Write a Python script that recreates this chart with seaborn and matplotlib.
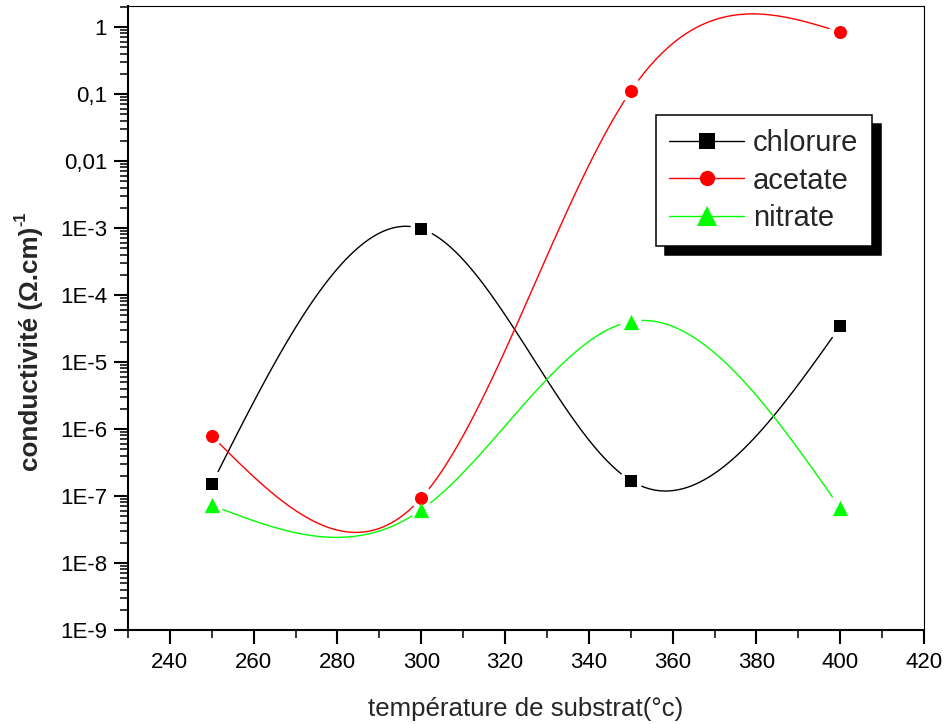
import numpy as np
import pandas as pd
import matplotlib
matplotlib.use("Agg")
import matplotlib.pyplot as plt
import seaborn as sns
from matplotlib.lines import Line2D
from matplotlib.ticker import FixedLocator, FixedFormatter, LogLocator, MultipleLocator, NullFormatter

# Conductivity of the films versus substrate temperature, one series per precursor
temperature = [250, 300, 350, 400]
chlorure = [1.5e-7, 9.7e-4, 1.7e-7, 3.4e-5]
acetate = [7.9e-7, 9.3e-8, 0.11, 0.84]
nitrate = [7.3e-8, 6.2e-8, 4.0e-5, 6.6e-8]

series_names = ["chlorure", "acetate", "nitrate"]
series_values = [chlorure, acetate, nitrate]
series_colors = ["#000000", "#FF0000", "#00FF00"]
series_markers = ["s", "o", "^"]
marker_sizes = [9.0, 9.4, 11.0]
legend_marker_sizes = [11.0, 11.0, 14.0]

x_ticks = [240, 260, 280, 300, 320, 340, 360, 380, 400, 420]
y_ticks = [1e-9, 1e-8, 1e-7, 1e-6, 1e-5, 1e-4, 1e-3, 1e-2, 1e-1, 1]
y_tick_labels = ["1E-9", "1E-8", "1E-7", "1E-6", "1E-5", "1E-4", "1E-3", "0,01", "0,1", "1"]


def natural_spline(x, y, n=400):
    """Natural cubic spline through (x, y), sampled on n points."""
    x = np.asarray(x, float)
    y = np.asarray(y, float)
    k = len(x)
    h = np.diff(x)
    A = np.zeros((k, k))
    b = np.zeros(k)
    A[0, 0] = A[-1, -1] = 1.0
    for i in range(1, k - 1):
        A[i, i - 1] = h[i - 1]
        A[i, i] = 2 * (h[i - 1] + h[i])
        A[i, i + 1] = h[i]
        b[i] = 6 * ((y[i + 1] - y[i]) / h[i] - (y[i] - y[i - 1]) / h[i - 1])
    M = np.linalg.solve(A, b)
    xs = np.linspace(x[0], x[-1], n)
    idx = np.clip(np.searchsorted(x, xs) - 1, 0, k - 2)
    x0, x1 = x[idx], x[idx + 1]
    hh = x1 - x0
    ys = ((M[idx] * (x1 - xs) ** 3 + M[idx + 1] * (xs - x0) ** 3) / (6 * hh)
          + (y[idx] - M[idx] * hh ** 2 / 6) * (x1 - xs) / hh
          + (y[idx + 1] - M[idx + 1] * hh ** 2 / 6) * (xs - x0) / hh)
    return xs, ys


sns.set_theme(style="ticks")
plt.rcParams["font.family"] = ["Liberation Sans", "DejaVu Sans"]
plt.rcParams["axes.unicode_minus"] = False

fig = plt.figure(figsize=(9.45, 7.24), dpi=100)
ax = fig.add_axes([128 / 945, 94 / 724, 796 / 945, 624 / 724])
ax.set_yscale("log")
ax.set_xlim(230, 420)
ax.set_ylim(1e-9, 2.05)

# Spline curves (interpolated in log space), broken around each series' own markers
gap_px = 11.0
rows = []
for name, vals in zip(series_names, series_values):
    xs, ly = natural_spline(temperature, np.log10(vals))
    ys = 10 ** ly
    disp = ax.transData.transform(np.column_stack([xs, ys]))
    mk = ax.transData.transform(np.column_stack([temperature, vals]))
    dist = np.min(np.hypot(disp[:, None, 0] - mk[None, :, 0],
                           disp[:, None, 1] - mk[None, :, 1]), axis=1)
    keep = dist > gap_px
    seg = 0
    prev = False
    for xv, yv, k in zip(xs, ys, keep):
        if k and not prev:
            seg += 1
        if k:
            rows.append({"temp": xv, "cond": yv, "series": name, "segment": f"{name}-{seg}"})
        prev = k
curves = pd.DataFrame(rows)

sns.lineplot(data=curves, x="temp", y="cond", hue="series", units="segment",
             estimator=None, sort=False, palette=dict(zip(series_names, series_colors)),
             linewidth=1.0, legend=False, ax=ax, zorder=2)

for name, vals, c, m, ms in zip(series_names, series_values, series_colors,
                                series_markers, marker_sizes):
    sns.scatterplot(x=temperature, y=vals, marker=m, color=c, s=ms ** 2,
                    edgecolor=c, linewidth=0, legend=False, ax=ax, zorder=3)

# Axes styling
ax.xaxis.set_major_locator(FixedLocator(x_ticks))
ax.xaxis.set_minor_locator(MultipleLocator(10))
ax.yaxis.set_major_locator(FixedLocator(y_ticks))
ax.yaxis.set_major_formatter(FixedFormatter(y_tick_labels))
ax.yaxis.set_minor_locator(LogLocator(base=10, subs=np.arange(2, 10), numticks=30))
ax.yaxis.set_minor_formatter(NullFormatter())
ax.set_xlim(230, 420)
ax.set_ylim(1e-9, 2.05)

ax.tick_params(axis="both", which="major", direction="out", length=10, width=1.5,
               labelsize=16, color="black", labelcolor="black")
ax.tick_params(axis="both", which="minor", direction="out", length=5.5, width=1.1,
               color="black")
ax.tick_params(axis="y", which="major", pad=5)
ax.tick_params(axis="x", which="major", pad=6)
ax.tick_params(top=False, right=False, which="both")

for side in ["left", "bottom"]:
    ax.spines[side].set_linewidth(1.5)
    ax.spines[side].set_color("black")
for side in ["top", "right"]:
    ax.spines[side].set_visible(True)
    ax.spines[side].set_linewidth(0.8)
    ax.spines[side].set_color("black")

ax.set_xlabel("température de substrat(°c)", fontsize=18.6, labelpad=17)
ax.set_ylabel("conductivité (Ω.cm)", fontsize=18.8, fontweight="bold")
ax.yaxis.set_label_coords((43 - 128) / 796, (630 - 349) / 624)

handles = [Line2D([], [], color=c, marker=m, markersize=ms, linewidth=1.0,
                  markeredgewidth=0)
           for c, m, ms in zip(series_colors, series_markers, legend_marker_sizes)]
leg = ax.legend(handles, series_names, loc="upper left",
                bbox_to_anchor=(0.663, 0.825), borderaxespad=0,
                fontsize=21, handlelength=2.57, handletextpad=0.28,
                labelspacing=0.33, borderpad=0.47, fancybox=False,
                framealpha=1, edgecolor="black",
                shadow={"ox": 6.5, "oy": -6.5, "facecolor": "black",
                        "edgecolor": "black", "alpha": 1})
leg.get_frame().set_linewidth(1.1)

# Exponent of the unit, set just above the end of the rotated y label
fig.canvas.draw()
bb = ax.yaxis.label.get_window_extent()
fig.text((bb.x0 + 2) / fig.bbox.width, (bb.y1 + 1) / fig.bbox.height, "-1",
         rotation=90, ha="center", va="bottom", fontsize=11.5, fontweight="bold")

fig.savefig("out.png", dpi=100)
